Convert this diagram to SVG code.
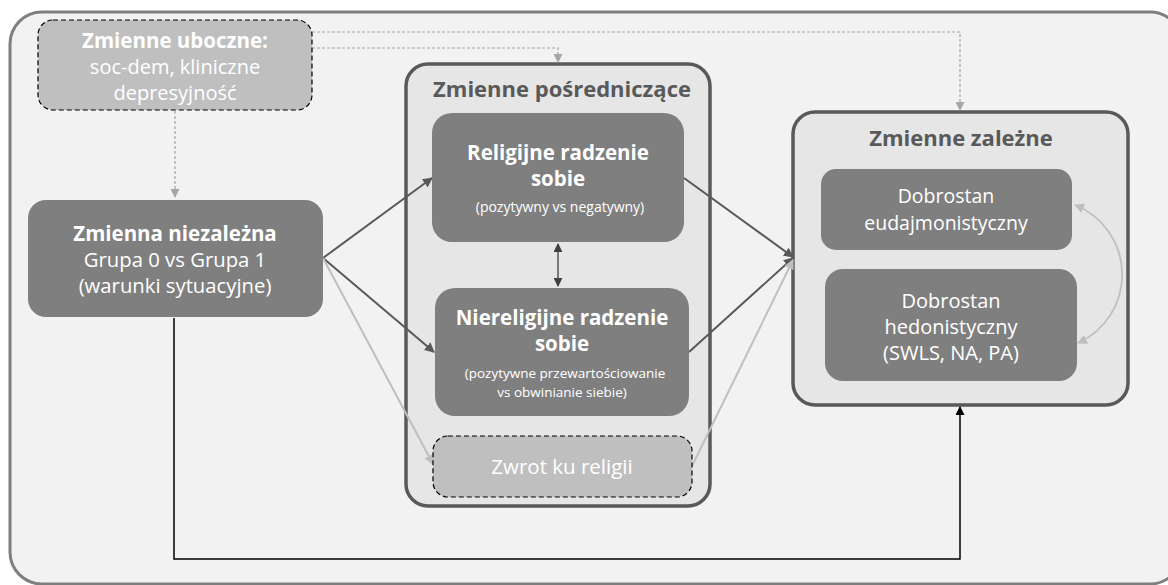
<svg xmlns="http://www.w3.org/2000/svg" width="1168" height="585" viewBox="0 0 1168 585">
  <style>
    text { font-family: "Open Sans", "Noto Sans", "Liberation Sans", sans-serif; text-anchor: middle; }
    .w { fill: #ffffff; }
    .b { font-weight: bold; }
    .title { fill: #595959; font-weight: bold; font-size: 22px; }
    .node { fill: #7f7f7f; }
    .opt { fill: #bfbfbf; stroke: #000000; stroke-width: 1.2; stroke-dasharray: 5 3; }
    .box { fill: #e6e6e6; stroke: #595959; stroke-width: 3.5; }
    .dark { stroke: #595959; stroke-width: 2; fill: none; }
    .light { stroke: #bfbfbf; stroke-width: 2; fill: none; }
    .dash { stroke: #a6a6a6; stroke-width: 1.2; stroke-dasharray: 3 2; fill: none; }
  </style>
  <defs>
    <marker id="mDark" viewBox="0 0 10 10" refX="9" refY="5" markerWidth="10" markerHeight="10" markerUnits="userSpaceOnUse" orient="auto-start-reverse">
      <path d="M0,0 L10,5 L0,10 z" fill="#595959"/>
    </marker>
    <marker id="mLight" viewBox="0 0 10 10" refX="9" refY="5" markerWidth="10" markerHeight="10" markerUnits="userSpaceOnUse" orient="auto-start-reverse">
      <path d="M0,0 L10,5 L0,10 z" fill="#bfbfbf"/>
    </marker>
    <marker id="mDash" viewBox="0 0 10 10" refX="9" refY="5" markerWidth="9" markerHeight="9" markerUnits="userSpaceOnUse" orient="auto-start-reverse">
      <path d="M0,0 L10,5 L0,10 z" fill="#a6a6a6"/>
    </marker>
    <marker id="mBlack" viewBox="0 0 10 10" refX="9" refY="5" markerWidth="9" markerHeight="9" markerUnits="userSpaceOnUse" orient="auto-start-reverse">
      <path d="M0,0 L10,5 L0,10 z" fill="#000000"/>
    </marker>
    <marker id="mDeep" viewBox="0 0 10 10" refX="9" refY="5" markerWidth="9" markerHeight="9" markerUnits="userSpaceOnUse" orient="auto-start-reverse">
      <path d="M0,0 L10,5 L0,10 z" fill="#404040"/>
    </marker>
  </defs>

  <rect width="1168" height="585" fill="#ffffff"/>
  <!-- outer frame -->
  <rect id="frame" x="10" y="12" width="1172" height="572" rx="32" fill="#f2f2f2" stroke="#7f7f7f" stroke-width="3"/>

  <!-- grouping containers -->
  <g id="mediators">
    <rect class="box" x="406" y="64" width="304" height="442" rx="22"/>
    <text class="title" x="562" y="97">Zmienne pośredniczące</text>
  </g>
  <g id="outcomes">
    <rect class="box" x="793" y="112" width="335" height="293" rx="22"/>
    <text class="title" x="961" y="146">Zmienne zależne</text>
  </g>

  <!-- connectors -->
  <g id="connectors">
    <path class="dash" d="M175,111 V197" marker-end="url(#mDash)"/>
    <path class="dash" d="M312,32 H960 V110" marker-end="url(#mDash)"/>
    <path class="dash" d="M312,48 H558 V62" marker-end="url(#mDash)"/>
    <path class="dark" d="M323,258 L432,178" marker-end="url(#mDark)"/>
    <path class="dark" d="M323,258 L434,352" marker-end="url(#mDark)"/>
    <path class="light" d="M323,258 L433,464" marker-end="url(#mLight)"/>
    <path class="dark" d="M684,178 L793,257" marker-end="url(#mDark)"/>
    <path class="dark" d="M689,352 L793,258" marker-end="url(#mDark)"/>
    <path class="light" d="M692,466 L793,260" marker-end="url(#mLight)"/>
    <path d="M558,244 V286" stroke="#404040" stroke-width="1.3" fill="none" marker-start="url(#mDeep)" marker-end="url(#mDeep)"/>
    <path d="M1075,205 A75,75 0 0 1 1078,343" stroke="#bfbfbf" stroke-width="1.8" fill="none" marker-start="url(#mLight)" marker-end="url(#mLight)"/>
    <path d="M174,318 V559 H960 V407" stroke="#000000" stroke-width="1.5" fill="none" marker-end="url(#mBlack)"/>
  </g>

  <!-- nodes -->
  <g id="confounders">
    <rect class="opt" x="38" y="20" width="274" height="90" rx="15"/>
    <text class="w b" x="175" y="48" font-size="20.5">Zmienne uboczne:</text>
    <text class="w" x="175" y="74" font-size="20">soc-dem, kliniczne</text>
    <text class="w" x="175" y="100" font-size="20">depresyjność</text>
  </g>
  <g id="independent">
    <rect class="node" x="28" y="200" width="295" height="117" rx="18"/>
    <text class="w b" x="175" y="241" font-size="20.5">Zmienna niezależna</text>
    <text class="w" x="175" y="267" font-size="20.3">Grupa 0 vs Grupa 1</text>
    <text class="w" x="175" y="293" font-size="20.3">(warunki sytuacyjne)</text>
  </g>
  <g id="religious">
    <rect class="node" x="432" y="113" width="252" height="129" rx="20"/>
    <text class="w b" x="558" y="160" font-size="20.5">Religijne radzenie</text>
    <text class="w b" x="558" y="186" font-size="20.5">sobie</text>
    <text class="w" x="560" y="212" font-size="14">(pozytywny vs negatywny)</text>
  </g>
  <g id="nonreligious">
    <rect class="node" x="435" y="288" width="254" height="128" rx="20"/>
    <text class="w b" x="562" y="325" font-size="20.5">Niereligijne radzenie</text>
    <text class="w b" x="562" y="351" font-size="20.5">sobie</text>
    <text class="w" x="565" y="378" font-size="13.5">(pozytywne przewartościowanie</text>
    <text class="w" x="562" y="397" font-size="13.5">vs obwinianie siebie)</text>
  </g>
  <g id="turn">
    <rect class="opt" x="433" y="436" width="259" height="61" rx="15"/>
    <text class="w" x="562" y="474" font-size="20.5">Zwrot ku religii</text>
  </g>
  <g id="eudaimonic">
    <rect class="node" x="821" y="169" width="251" height="81" rx="15"/>
    <text class="w" x="946" y="203" font-size="19.5">Dobrostan</text>
    <text class="w" x="946" y="230" font-size="19.5">eudajmonistyczny</text>
  </g>
  <g id="hedonic">
    <rect class="node" x="825" y="269" width="252" height="112" rx="18"/>
    <text class="w" x="951" y="308" font-size="20">Dobrostan</text>
    <text class="w" x="951" y="334" font-size="20">hedonistyczny</text>
    <text class="w" x="951" y="360" font-size="20">(SWLS, NA, PA)</text>
  </g>
</svg>
